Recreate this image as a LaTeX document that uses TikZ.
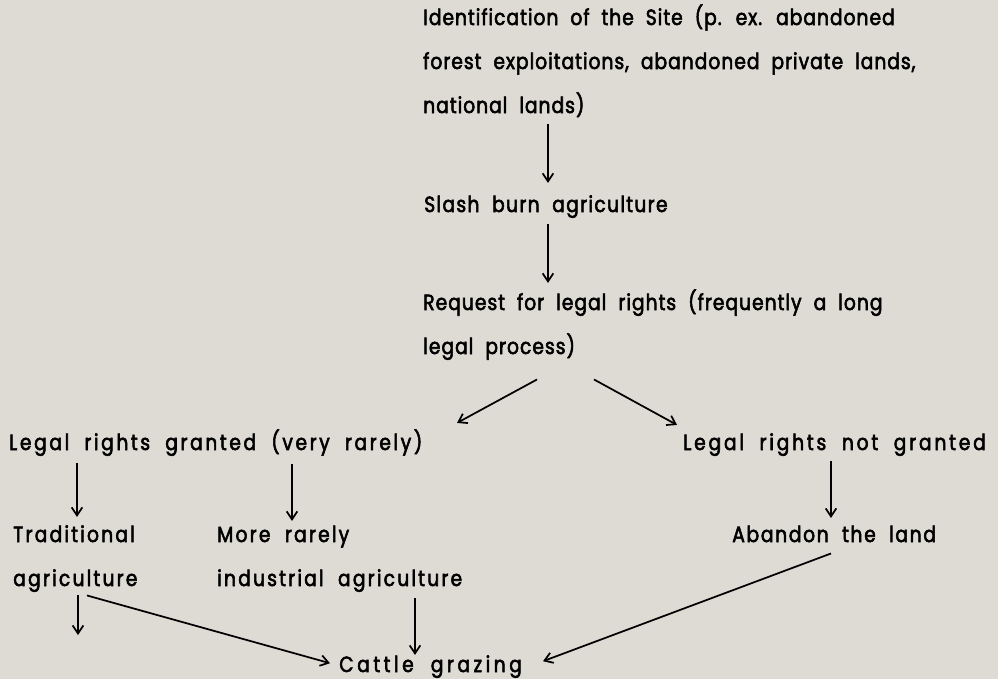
\documentclass[tikz,border=0pt]{standalone}
\usepackage{fontspec}
\setmainfont{Poppins}[LetterSpace=6,WordSpace=2,FakeStretch=0.85,FakeBold=2.5]
\usetikzlibrary{arrows.meta,calc}
\definecolor{bg}{RGB}{222,219,213}
\newcommand{\txtlines}[1]{\begin{tabular}[t]{@{}l@{}}#1\end{tabular}}
\tikzset{
  txt/.style={inner sep=0pt, anchor=base west, font=\fontsize{16.5}{33}\selectfont\addfontfeature{LetterSpace=#1}},
  txt/.default=6,
  arr/.style={line width=1.3pt, -{Straight Barb[length=6pt,width=8pt,line width=1.3pt]}}
}
\begin{document}
\begin{tikzpicture}[x=0.75pt,y=-0.75pt]
\fill[bg] (0,0) rectangle (998,679);
\useasboundingbox (0,0) rectangle (998,679);
\node[txt=4.5] (site) at (423,25) {\txtlines{Identification of the Site (p. ex. abandoned\\forest exploitations, abandoned private lands,\\national lands)}};
\node[txt=6] (slash) at (424,212) {\txtlines{Slash burn agriculture}};
\node[txt=4.6] (req) at (423,310) {\txtlines{Request for legal rights (frequently a long\\legal process)}};
\node[txt=11.8] (granted) at (9,450) {\txtlines{Legal rights granted (very rarely)}};
\node[txt=12.7] (notgranted) at (683,450) {\txtlines{Legal rights not granted}};
\node[txt=10] (trad) at (13,542) {\txtlines{Traditional\\agriculture}};
\node[txt=10] (more) at (217,542) {\txtlines{More rarely\\industrial agriculture}};
\node[txt=7.6] (abandon) at (732,542) {\txtlines{Abandon the land}};
\node[txt=16] (cattle) at (339,672) {\txtlines{Cattle grazing}};
\coordinate (tradend) at (78,635);
\draw[arr] ($(site.south west)+(125,-2)$) -- ($(slash.north west)+(124,2)$);
\draw[arr] ($(slash.south west)+(124,-1)$) -- ($(req.north west)+(125,4)$);
\draw[arr] ($(req.south west)+(114,12)$) -- ($(granted.north west)+(448,4)$);
\draw[arr] ($(req.south west)+(171,12)$) -- ($(notgranted.north west)+(-6,6)$);
\draw[arr] ($(granted.south west)+(68,0)$) -- ($(trad.north west)+(64,6)$);
\draw[arr] ($(granted.south west)+(283,1)$) -- ($(more.north west)+(75,10)$);
\draw[arr] ($(notgranted.south west)+(148,-2)$) -- ($(abandon.north west)+(99,7)$);
\draw[arr] ($(trad.south west)+(65,-4)$) -- (tradend);
\draw[arr] ($(trad.south west)+(74,-4)$) -- ($(cattle.west)+(-9,0)$);
\draw[arr] ($(more.south west)+(198,-1)$) -- ($(cattle.north west)+(76,14)$);
\draw[arr] ($(abandon.south west)+(99,-2)$) -- ($(cattle.west)+(204,-2)$);
\end{tikzpicture}
\end{document}
